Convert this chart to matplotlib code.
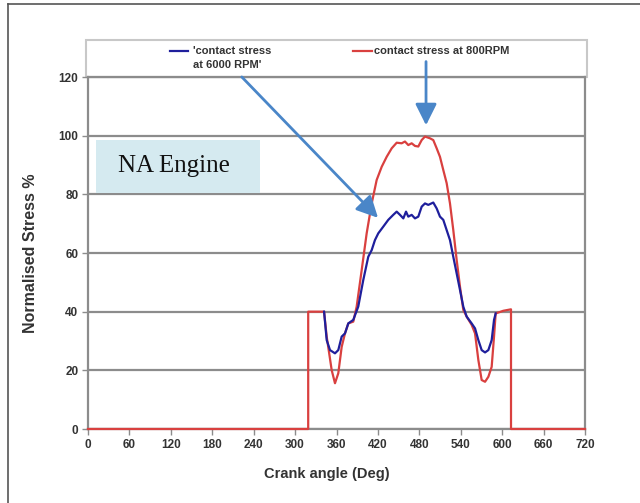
import numpy as np
import matplotlib.pyplot as plt
from matplotlib.lines import Line2D
from matplotlib.patches import Rectangle

plt.rcParams['font.family'] = ['Liberation Sans', 'DejaVu Sans']

# Contact stress at 800RPM (red) - crank angle (deg) vs normalised stress (%)
ang_800 = [0, 319, 319, 342, 345.8, 353, 357.8, 362.6, 367.5, 372.3, 377.1, 384.3,
           389.2, 396.5, 403.7, 411, 418.2, 425.5, 432.7, 440, 447.2, 454.4, 459.2,
           464, 468.9, 473.7, 478.5, 483.4, 488.2, 495.4, 500.2, 505.1, 509.9, 514.7,
           519.6, 524.4, 529.2, 534.1, 538.9, 543.7, 548.6, 555.8, 560.7, 565.5,
           570.3, 575.2, 580, 584.8, 588.2, 590.6, 594.4, 601.6, 612.8, 612.8, 720]
str_800 = [0, 0, 40, 40, 31.5, 20.1, 15.6, 19, 28, 32.6, 36, 36.6,
           41.7, 54.2, 66.7, 76.9, 84.9, 89.4, 92.8, 95.7, 97.6, 97.4, 98,
           96.8, 97.4, 96.5, 96.3, 98.5, 99.7, 99.1, 98.5, 95.7, 92.8, 88.3,
           83.8, 76.9, 67.8, 57.6, 48.5, 40.6, 38.3, 35.5, 32.6, 23.5,
           16.7, 16.1, 17.8, 21.2, 31.5, 39.4, 39.7, 40.3, 40.8, 0, 0]

# Contact stress at 6000 RPM (blue)
ang_6000 = [342, 345.8, 350.6, 357.8, 362.6, 367.5, 372.3, 377.1, 384.3, 391.5,
            398.8, 406, 411, 415.7, 420.5, 427.8, 435, 442.2, 447.2, 452, 456.8,
            460.7, 464, 468.9, 473.7, 478.5, 483.4, 488.2, 493, 500.2, 505.1,
            509.9, 514.7, 519.6, 524.4, 529.2, 534.1, 538.9, 543.7, 548.6, 555.8,
            560.7, 565.5, 570.3, 575.2, 580, 584.8, 588.2, 590.6]
str_6000 = [40, 30.3, 26.9, 25.8, 26.9, 31.5, 32.6, 36, 37.2, 41.7,
            50.8, 58.7, 61, 64.4, 66.7, 69, 71.3, 73, 74.1, 73, 71.8,
            74.1, 72.4, 73, 71.8, 72.4, 75.8, 76.9, 76.4, 77.2, 75.2,
            72.4, 71.3, 67.8, 64.4, 58.7, 53, 47.4, 41.7, 38.3, 36,
            34.3, 30.3, 26.9, 26.1, 26.9, 30.3, 37.2, 39.4]

x_ticks = np.arange(0, 721, 60)
y_ticks = np.arange(0, 121, 20)

red = '#d9403f'
blue = '#1f1f9c'
arrow_col = '#4a86c8'
grid_col = '#8c8c8c'

W, H = 640, 503
fig = plt.figure(figsize=(W / 100, H / 100), dpi=100)
ax = fig.add_axes([88 / W, 1 - 429 / H, 497 / W, 352 / H])

ax.plot(ang_800, str_800, color=red, lw=1.6, clip_on=False, zorder=3)
ax.plot(ang_6000, str_6000, color=blue, lw=1.6, zorder=4)

ax.set_xlim(0, 720)
ax.set_ylim(0, 120)
ax.set_xticks(x_ticks)
ax.set_yticks(y_ticks)
ax.yaxis.grid(True, color=grid_col, lw=1.6)
ax.set_axisbelow(True)
for s in ax.spines.values():
    s.set_color(grid_col)
    s.set_linewidth(1.6)
ax.tick_params(colors='#333333', labelsize=8.5, length=4, width=1, pad=3)
ax.tick_params(axis='both', color=grid_col)
for lbl in ax.get_xticklabels() + ax.get_yticklabels():
    lbl.set_fontweight('bold')

ax.set_xlabel('Crank angle (Deg)', fontsize=10.5, fontweight='bold', color='#333333')
ax.xaxis.set_label_coords(0.481, -0.108)
ax.set_ylabel('Normalised Stress %', fontsize=11.5, fontweight='bold', color='#333333', labelpad=15)

# "NA Engine" label box
ax.add_patch(Rectangle((11.6, 80.5), 237.6, 18, fc='#d5eaf0', ec='none', zorder=2))
ax.text(43.5, 89.5, 'NA Engine', fontsize=18, family=['Liberation Serif', 'DejaVu Serif'],
        va='center', ha='left', color='#111111', zorder=3)

# legend box above the plot
fig.add_artist(Rectangle((86 / W, 1 - 77 / H), 501 / W, 37 / H, transform=fig.transFigure,
                         fc='white', ec='#c8c8c8', lw=1.5, zorder=0))
fig.add_artist(Line2D([170 / W, 188 / W], [1 - 51 / H] * 2, color=blue, lw=1.6))
fig.text(193 / W, 1 - 46 / H, "'contact stress\nat 6000 RPM'", fontsize=8, fontweight='bold',
         va='top', ha='left', color='#333333', linespacing=1.45)
fig.add_artist(Line2D([353 / W, 372 / W], [1 - 51 / H] * 2, color=red, lw=1.6))
fig.text(374 / W, 1 - 51 / H, 'contact stress at 800RPM', fontsize=8, fontweight='bold',
         va='center', ha='left', color='#333333')

# arrows from legend entries down to the curves
arrow_kw = dict(arrowstyle='-|>,head_length=1.3,head_width=0.65', color=arrow_col, lw=2)
ax.annotate('', xy=(423, 71.3), xytext=(220, 120.7), arrowprops=arrow_kw, annotation_clip=False)
ax.annotate('', xy=(489.7, 102.6), xytext=(489.7, 126.2), arrowprops=arrow_kw, annotation_clip=False)

# outer frame
fig.add_artist(Line2D([8 / W, 8 / W], [0, 1 - 4 / H], color='#555555', lw=1.2))
fig.add_artist(Line2D([8 / W, 1], [1 - 4 / H] * 2, color='#555555', lw=1.2))

fig.savefig('out.png', dpi=100)
